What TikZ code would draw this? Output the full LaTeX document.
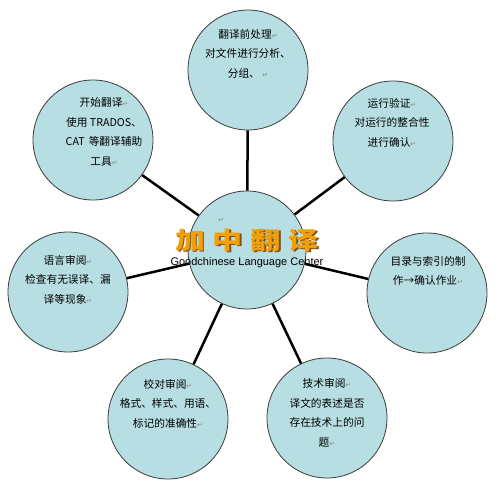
\documentclass[tikz,border=0pt]{standalone}
\usepackage{fontspec}
\setmainfont{Noto Sans CJK SC}
\newfontfamily\latinfont{Liberation Sans}
\newfontfamily\markfont{DejaVu Sans}
\newfontfamily\titlefont{Noto Sans CJK SC}[FakeStretch=1.25]
\usetikzlibrary{positioning}

\definecolor{bubblefill}{RGB}{183,222,226}
\definecolor{bubbleline}{RGB}{60,60,60}
\definecolor{titleorange}{RGB}{242,160,10}
\definecolor{titleshade}{RGB}{130,80,20}

% paragraph mark as it shows in the picture
\newcommand{\ret}{{\markfont\color{black!45}\fontsize{7}{7}\selectfont ↵}}

\tikzset{
    bubble/.style={circle,fill=bubblefill,draw=bubbleline,line width=0.8pt,minimum size=120pt,inner sep=0pt},
    words/.style={align=center,font=\fontsize{10.7}{19.5}\selectfont,inner sep=0pt},
    spoke/.style={line width=2.5pt,black},
    headline/.style={inner sep=0pt,font=\titlefont\bfseries\fontsize{24}{24}\selectfont}
}

\begin{document}
\begin{tikzpicture}[x=1pt,y=-1pt]
    \useasboundingbox (0,0) rectangle (499,494);

    % centre and the seven circles round it
    \node[bubble,minimum size=118pt] (hub) at (247,250) {};
    \node[bubble] (pre) at (248,70) {};
    \node[bubble] (tool) at (93,140) {};
    \node[bubble] (check) at (393,141) {};
    \node[bubble] (lang) at (68,292) {};
    \node[bubble] (index) at (427,293) {};
    \node[bubble] (proof) at (168,419) {};
    \node[bubble] (tech) at (327,418) {};

    % spokes from the centre
    \foreach \n in {pre,tool,check,lang,index,proof,tech}
        \draw[spoke] (hub) -- (\n);

    % centre title
    \node[inner sep=0pt] (hubmark) at (221,220) {\ret};
    \node[headline,text=titleshade] (titleshadow) at (248.3,241.3) {加\hspace{8pt}中\hspace{8pt}翻\hspace{8pt}译};
    \node[headline,text=titleorange] (title) at (247,240) {加\hspace{8pt}中\hspace{8pt}翻\hspace{8pt}译};
    \node[inner sep=0pt,font=\latinfont\fontsize{11}{11}\selectfont] (subtitle) at (247,263) {Goodchinese Language Center};

    % texts in the circles
    \node[words] (preT) at (248,53.5) {翻译前处理\ret\\对文件进行分析、\\分组、 \ret};
    \node[words] (toolT) at (104,132) {开始翻译\ret\\使用 TRADOS、\\CAT\hspace{4pt}等翻译辅助\\工具\ret};
    \node[words] (checkT) at (392,122.5) {运行验证\ret\\对运行的整合性\\进行确认\ret};
    \node[words] (langT) at (68,279.5) {语言审阅\ret\\检查有无误译、漏\\译等现象\ret};
    \node[words] (indexT) at (428,271) {目录与索引的制\\作→确认作业\ret};
    \node[words] (proofT) at (168,403.5) {校对审阅\ret\\格式、样式、用语、\\标记的准确性\ret};
    \node[words] (techT) at (327,413) {技术审阅\ret\\译文的表述是否\\存在技术上的问\\题\ret};
\end{tikzpicture}
\end{document}
